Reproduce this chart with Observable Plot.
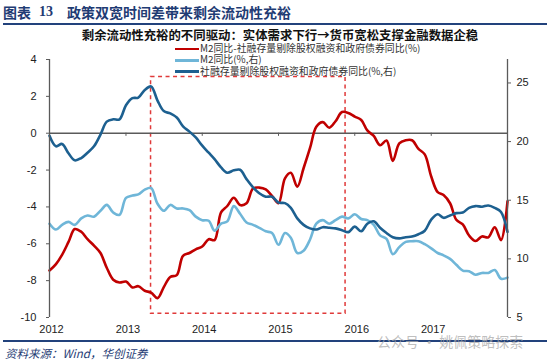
<!DOCTYPE html>
<html><head><meta charset="utf-8">
<script src="https://cdn.jsdelivr.net/npm/d3@7"></script>
<script src="https://cdn.jsdelivr.net/npm/@observablehq/plot@0.6"></script>
<style>
body{margin:0;background:#fff;}
#wrap{position:relative;width:550px;height:361px;overflow:hidden;font-family:"Liberation Sans",Arial,"Noto Sans CJK SC",sans-serif;}
#wrap svg{position:absolute;left:0;top:0;}
.abs{position:absolute;white-space:nowrap;line-height:1;}
.cjk{font-family:"Noto Sans CJK SC","Liberation Sans",sans-serif;}
</style></head><body><div id="wrap"></div>
<script>
// ---- data (monthly, Jan 2012 .. Jan 2018) ----
const startYear = 2012;
const spread = [ // M2同比-社融存量剔除股权融资和政府债券同比 (left axis, %)
  -7.45,-7.1,-6.6,-5.9,-5.2,-5.35,-5.75,-6.1,-6.5,-7.3,-7.95,-8.1,
  -8.05,-8.37,-8.3,-8.55,-8.65,-8.95,-8.35,-7.8,-7.7,-6.65,-6.5,-6.3,
  -6.15,-5.75,-5.8,-4.3,-3.95,-3.5,-3.9,-3.8,-3.0,-2.95,-3.05,-3.4,
  -3.8,-2.45,-2.15,-2.9,-1.9,-0.8,0.35,0.6,0.3,0.65,1.15,1.1,
  0.9,0.72,0.15,-0.15,-0.65,-0.4,-1.5,-0.55,-0.38,-0.38,-0.85,-1.15,
  -2.35,-3.2,-3.35,-3.8,-4.7,-4.95,-5.55,-5.85,-5.6,-5.65,-5.1,-5.8,
  -3.7
];
const m2 = [ // M2同比 (right axis, %)
  13.0,12.5,12.9,13.15,12.9,13.45,13.7,13.6,14.1,14.6,13.95,13.75,
  15.2,15.4,15.5,15.9,16.05,14.7,14.1,14.6,14.3,14.3,14.15,13.6,
  13.3,13.25,12.4,13.0,13.2,14.5,13.85,13.1,12.9,12.65,12.35,12.2,
  11.2,12.2,11.8,10.5,10.7,11.65,13.0,13.3,13.0,13.3,13.6,13.45,
  13.8,13.4,13.3,12.9,12.0,11.7,10.4,11.0,11.45,11.5,11.5,11.25,
  10.9,10.5,10.3,10.0,9.5,9.0,8.95,8.65,8.8,8.8,9.05,8.3,
  8.4
];
const sf = [ // 社融存量剔除股权融资和政府债券同比 (right axis, %)
  20.5,19.6,19.8,19.0,18.4,18.6,19.05,19.6,20.6,21.7,21.9,21.9,
  23.1,23.7,23.75,24.4,24.7,23.5,22.6,22.4,22.05,21.3,20.85,20.35,
  19.65,19.05,18.5,17.8,17.35,17.55,17.6,16.8,16.1,15.6,15.3,15.3,
  14.8,14.75,14.35,13.45,12.9,12.6,12.5,12.7,12.65,12.6,12.45,12.28,
  12.75,12.35,13.0,13.2,12.65,12.2,11.85,11.75,11.85,11.9,12.1,12.4,
  13.35,13.8,13.5,13.7,13.9,13.95,14.35,14.5,14.45,14.55,14.35,14.0,
  12.3
];
const seriesNames = ["M2同比-社融存量剔除股权融资和政府债券同比(%)","M2同比(%,右)","社融存量剔除股权融资和政府债券同比(%,右)"];
const seriesColors = ["#C00000","#6FB6D8","#1D6090"];
const leftTicks = [-10,-8,-6,-4,-2,0,2,4];
const leftDomain = [-10,4];
const rightTicks = [5,10,15,20,25];
const rightDomain = [5,27];
const yearTicks = [2012,2013,2014,2015,2016,2017];
const highlightX = ["2013-05-01","2015-11-18"];
const highlightY = [-9.8,3.05];
const titleNo = "图表 13";
const titleText = "政策双宽时间差带来剩余流动性充裕";
const subtitleText = "剩余流动性充裕的不同驱动：实体需求下行→货币宽松支撑金融数据企稳";
const sourceText = "资料来源：Wind，华创证券";
const watermarkText = "公众号 · 姚佩策略探索";

// ---- helpers ----
const toLeft = r => leftDomain[0] + (r - rightDomain[0]) * (leftDomain[1]-leftDomain[0]) / (rightDomain[1]-rightDomain[0]);
const fromLeft = v => rightDomain[0] + (v - leftDomain[0]) * (rightDomain[1]-rightDomain[0]) / (leftDomain[1]-leftDomain[0]);
const monthDate = i => new Date(Date.UTC(startYear, i, 1));
const xStart = monthDate(0), xEnd = monthDate(spread.length - 1);
const rows = [];
spread.forEach((v,i)=>rows.push({d:monthDate(i), v, s:0}));
m2.forEach((v,i)=>rows.push({d:monthDate(i), v:toLeft(v), s:1}));
sf.forEach((v,i)=>rows.push({d:monthDate(i), v:toLeft(v), s:2}));
const yearDates = yearTicks.map(y=>new Date(Date.UTC(y,0,1)));
const hl = [{x1:new Date(highlightX[0]), x2:new Date(highlightX[1]), y1:highlightY[0], y2:highlightY[1]}];
const axisColor = "#5a5a5a";

const chart = Plot.plot({
  width:550, height:361,
  marginLeft:49, marginRight:43, marginTop:59, marginBottom:44,
  x:{type:"utc", domain:[xStart,xEnd]},
  y:{domain:leftDomain, label:null},
  style:{fontFamily:"'Liberation Sans', Arial, sans-serif", fontSize:"11px", color:"#222", background:"transparent", overflow:"visible"},
  marks:[
    Plot.rect(hl,{x1:"x1",x2:"x2",y1:"y1",y2:"y2",fill:"none",stroke:"#E03A3A",strokeWidth:1.5,strokeDasharray:"4,3.5"}),
    Plot.ruleY([0],{stroke:axisColor,strokeWidth:1.5}),
    Plot.ruleX(yearDates.slice(1),{y1:0,y2:-0.17,stroke:axisColor,strokeWidth:1}),
    ...[0,1,2].map(s=>Plot.line(rows.filter(r=>r.s===s),{x:"d",y:"v",stroke:seriesColors[s],strokeWidth:2.6,curve:"catmull-rom"})),
    Plot.ruleX([xStart],{y1:leftDomain[0],y2:leftDomain[1],stroke:axisColor,strokeWidth:1.3}),
    Plot.ruleX([xEnd],{y1:leftDomain[0],y2:leftDomain[1],stroke:axisColor,strokeWidth:1.3}),
    Plot.axisY(leftTicks,{anchor:"left",tickSize:3,tickPadding:10,stroke:axisColor,fill:"#222",tickFormat:d=>String(d),label:null}),
    Plot.axisY(rightTicks.map(toLeft),{anchor:"right",tickSize:3,tickPadding:6,stroke:axisColor,fill:"#222",tickFormat:d=>String(Math.round(fromLeft(d))),label:null}),
    Plot.axisX(yearDates,{anchor:"bottom",tickSize:0,tickPadding:8,dx:2,fill:"#222",tickFormat:d=>String(d.getUTCFullYear()),label:null})
  ]
});
const wrap = document.getElementById("wrap");
wrap.appendChild(chart);

function addText(txt, css, cls){
  const el = document.createElement("div");
  el.className = "abs " + (cls||"");
  el.textContent = txt;
  Object.assign(el.style, css);
  wrap.appendChild(el);
  return el;
}
// title
const [tA, tB] = titleNo.split(" ");
addText(tA,{left:"3px",top:"5px",fontSize:"14px",fontWeight:"700",color:"#1F3C74"},"cjk");
addText(tB,{left:"39px",top:"5px",fontSize:"14px",fontWeight:"700",color:"#1F3C74",fontFamily:"'Liberation Serif',serif"});
addText(titleText,{left:"67px",top:"5px",fontSize:"14px",fontWeight:"700",color:"#1F3C74"},"cjk");
const bar1 = document.createElement("div");
Object.assign(bar1.style,{position:"absolute",left:"3px",top:"23px",width:"544px",height:"2px",background:"#22427C"});
wrap.appendChild(bar1);
// subtitle
addText(subtitleText,{left:"0px",width:"560px",textAlign:"center",top:"28.5px",fontSize:"12.4px",fontWeight:"700",color:"#111"},"cjk");
// legend
const legendTops = [49,60.3,71.6];
seriesNames.forEach((n,i)=>{
  const sw = document.createElement("div");
  Object.assign(sw.style,{position:"absolute",left:"175px",top:(legendTops[i]-1.3)+"px",width:"24px",height:"2.6px",background:seriesColors[i]});
  wrap.appendChild(sw);
  addText(n,{left:"200px",top:(legendTops[i]-5)+"px",fontSize:"9.9px",color:"#333"},"cjk");
});
// footer
const bar2 = document.createElement("div");
Object.assign(bar2.style,{position:"absolute",left:"3px",top:"340px",width:"544px",height:"2px",background:"#22427C"});
wrap.appendChild(bar2);
addText(sourceText,{left:"5px",top:"347.5px",fontSize:"11.5px",fontStyle:"italic",color:"#1F3C74"},"cjk");
addText(watermarkText,{left:"377px",top:"334px",fontSize:"14px",color:"rgba(170,170,170,0.75)"},"cjk");
</script></body></html>
